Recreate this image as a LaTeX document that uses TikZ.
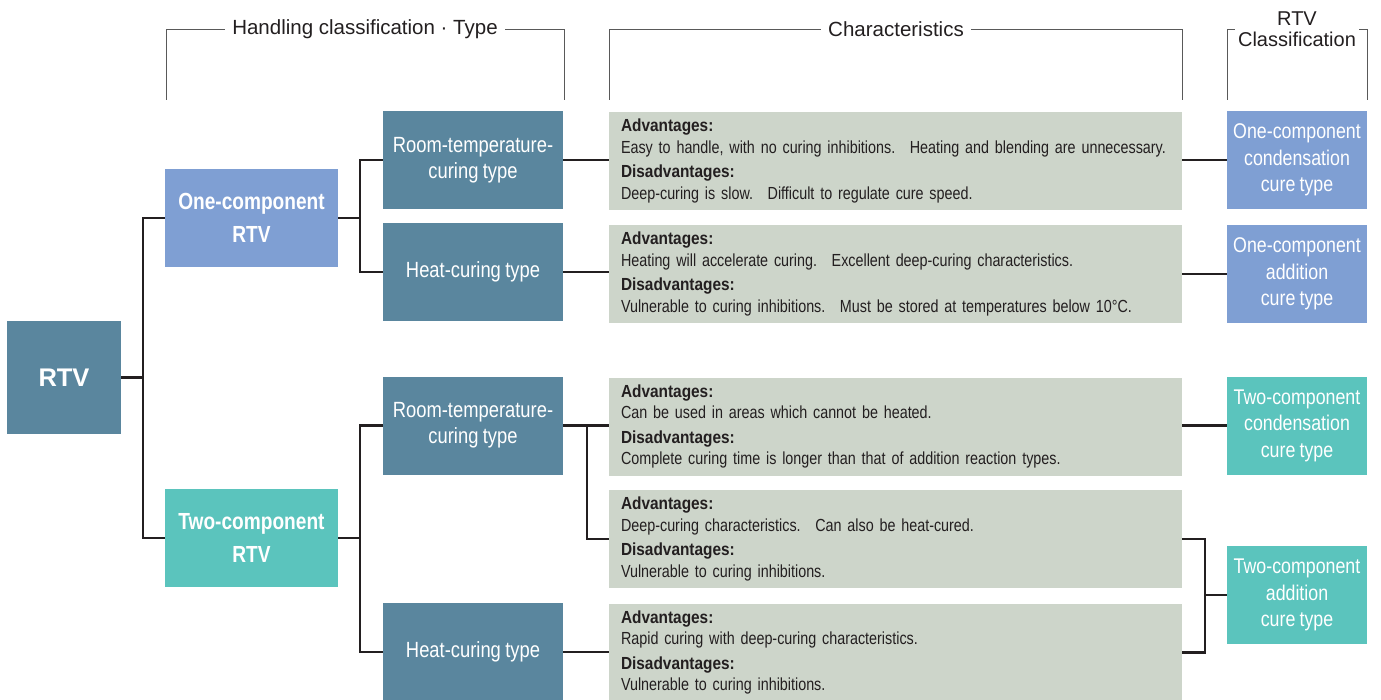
\documentclass[tikz,border=0pt]{standalone}
\usepackage{fontspec}
\setmainfont{Liberation Sans}
\newfontfamily\condfont{Liberation Sans}[FakeStretch=0.82, WordSpace=0.8,
  BoldFeatures={FakeStretch=0.88}]
\newfontfamily\typefont{Liberation Sans}[FakeStretch=0.835, WordSpace=0.85]
\newfontfamily\kindfont{Liberation Sans}[FakeStretch=0.82]
\definecolor{steel}{HTML}{5A869E}
\definecolor{oneblue}{HTML}{7F9FD3}
\definecolor{twoteal}{HTML}{5BC4BD}
\definecolor{sage}{HTML}{CDD5CA}
\definecolor{ink}{HTML}{231F20}
\tikzset{
  basebox/.style   = {shape=rectangle, inner sep=0pt, align=center,
                      text=white, minimum height=98},
  rootbox/.style   = {basebox, fill=steel, minimum width=114, minimum height=113,
                      font=\fontsize{25.5}{28}\selectfont\bfseries},
  kindbox/.style   = {basebox, minimum width=173,
                      font=\kindfont\fontsize{23.3}{33}\selectfont\bfseries},
  typebox/.style   = {basebox, fill=steel, minimum width=180,
                      font=\typefont\fontsize{22}{26}\selectfont},
  classbox/.style  = {basebox, minimum width=140,
                      font=\typefont\fontsize{21.3}{26.5}\selectfont},
  charbox/.style   = {shape=rectangle, fill=sage, minimum width=573, minimum height=98,
                      text width=549, inner xsep=12, inner ysep=0pt, align=left,
                      text=ink, font=\condfont\fontsize{17.5}{21.5}\selectfont},
  header/.style    = {fill=white, inner xsep=7pt, inner ysep=2pt, text=ink, align=center,
                      font=\fontsize{20.5}{21}\selectfont},
  bracket/.style   = {draw=black!65, line width=0.9},
  link/.style      = {draw=ink, line width=2.4, line join=miter}
}
\begin{document}
\begin{tikzpicture}[x=1pt, y=-1pt]
\useasboundingbox (0,0) rectangle (1381,700);

\draw[bracket] (166,100) |- (564,29) -- (564,100);
\draw[bracket] (609,100) |- (1182,29) -- (1182,100);
\draw[bracket] (1227,100) |- (1367,29) -- (1367,100);
\node[header] (hdltype) at (365,29) {Handling classification · Type};
\node[header] (hdlchar) at (896,29) {Characteristics};
\node[header, inner xsep=3pt, inner ysep=0pt, font=\fontsize{20}{21}\selectfont]
  (hdlclass) at (1297,29) {RTV\\Classification};

\node[rootbox] (rtv) at (64,377.5) {RTV};
\node[kindbox, fill=oneblue] (one) at (251.5,218) {One-component\\RTV};
\node[kindbox, fill=twoteal] (two) at (251.5,538) {Two-component\\RTV};

\node[typebox] (rt1) at (473,160) {Room-temperature-\\curing type};
\node[typebox] (ht1) at (473,272) {Heat-curing type};
\node[typebox] (rt2) at (473,425.5) {Room-temperature-\\curing type};
\node[typebox] (ht2) at (473,652) {Heat-curing type};

\node[charbox] (ch1) at (895.5,161) {\textbf{Advantages:}\\
  Easy to handle, with no curing inhibitions.~ Heating and blending are unnecessary.\\[3pt]
  \textbf{Disadvantages:}\\ Deep-curing is slow.~ Difficult to regulate cure speed.};
\node[charbox] (ch2) at (895.5,274) {\textbf{Advantages:}\\
  Heating will accelerate curing.~ Excellent deep-curing characteristics.\\[3pt]
  \textbf{Disadvantages:}\\ Vulnerable to curing inhibitions.~ Must be stored at temperatures below 10\textdegree C.};
\node[charbox] (ch3) at (895.5,426.5) {\textbf{Advantages:}\\
  Can be used in areas which cannot be heated.\\[3pt]
  \textbf{Disadvantages:}\\ Complete curing time is longer than that of addition reaction types.};
\node[charbox] (ch4) at (895.5,539) {\textbf{Advantages:}\\
  Deep-curing characteristics.~ Can also be heat-cured.\\[3pt]
  \textbf{Disadvantages:}\\ Vulnerable to curing inhibitions.};
\node[charbox] (ch5) at (895.5,652.5) {\textbf{Advantages:}\\
  Rapid curing with deep-curing characteristics.\\[3pt]
  \textbf{Disadvantages:}\\ Vulnerable to curing inhibitions.};

\node[classbox, fill=oneblue] (cls1) at (1297,160) {One-component\\condensation\\cure type};
\node[classbox, fill=oneblue] (cls2) at (1297,274) {One-component\\addition\\cure type};
\node[classbox, fill=twoteal] (cls3) at (1297,425.5) {Two-component\\condensation\\cure type};
\node[classbox, fill=twoteal] (cls4) at (1297,595) {Two-component\\addition\\cure type};

\coordinate (addfork) at (1205,595);

\draw[link] (rtv.east) -- +(22,0) |- (one.west);
\draw[link] (rtv.east) -- +(22,0) |- (two.west);
\draw[link] (one.east) -- +(22,0) |- (rt1.west);
\draw[link] (one.east) -- +(22,0) |- (ht1.west);
\draw[link] (two.east) -- +(22,0) |- (rt2.west);
\draw[link] (two.east) -- +(22,0) |- (ht2.west);
\draw[link] (rt1.east) -- (rt1.east -| ch1.west);
\draw[link] (ht1.east) -- (ht1.east -| ch2.west);
\draw[link] (rt2.east) -- (rt2.east -| ch3.west);
\draw[link] (rt2.east) -- +(24,0) |- (ch4.west);
\draw[link] (ht2.east) -- (ht2.east -| ch5.west);
\draw[link] (ch1.east |- cls1.west) -- (cls1.west);
\draw[link] (ch2.east |- cls2.west) -- (cls2.west);
\draw[link] (ch3.east |- cls3.west) -- (cls3.west);
\draw[link] (ch4.east) -| (addfork) |- (ch5.east);
\draw[link] (addfork) -- (cls4);
\end{tikzpicture}
\end{document}
